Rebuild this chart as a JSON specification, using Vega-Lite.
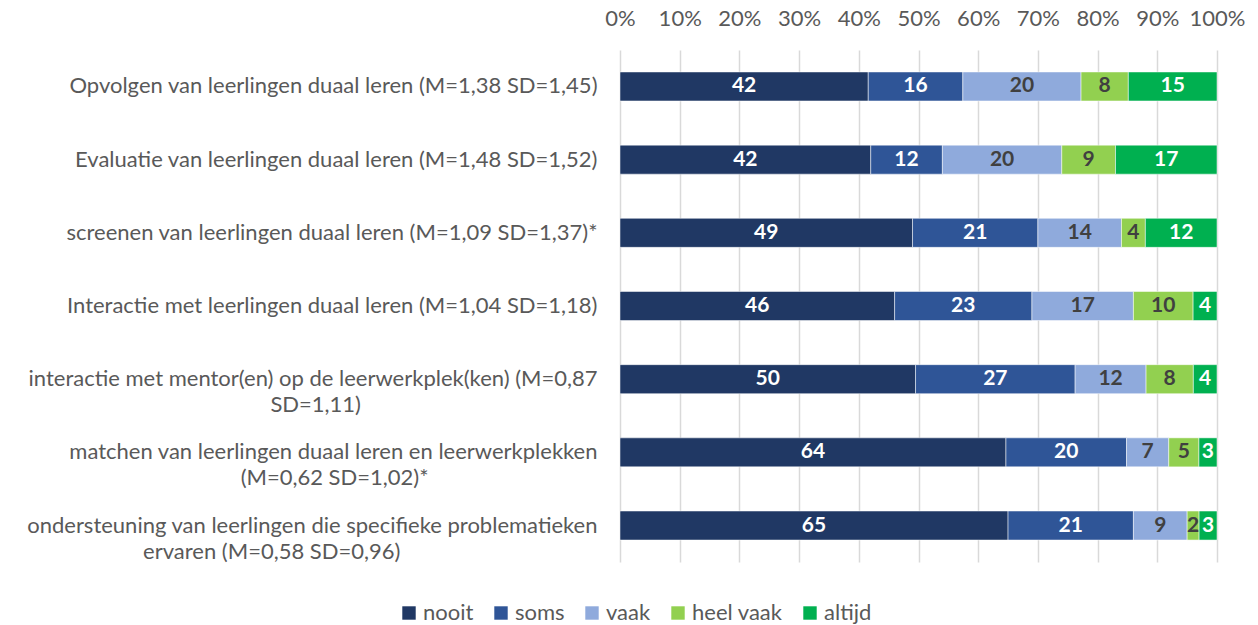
{
  "$schema": "https://vega.github.io/schema/vega-lite/v6.json",
  "width": 597,
  "height": 512,
  "autosize": {"type": "none"},
  "padding": {"left": 620, "top": 50, "right": 41, "bottom": 63},
  "background": "white",
  "config": {
    "font": "Lato",
    "view": {"stroke": null}
  },
  "data": {
    "values": [
      {"item": "Opvolgen van leerlingen duaal leren (M=1,38 SD=1,45)", "cat": "nooit", "k": 1, "v": 42},
      {"item": "Opvolgen van leerlingen duaal leren (M=1,38 SD=1,45)", "cat": "soms", "k": 2, "v": 16},
      {"item": "Opvolgen van leerlingen duaal leren (M=1,38 SD=1,45)", "cat": "vaak", "k": 3, "v": 20},
      {"item": "Opvolgen van leerlingen duaal leren (M=1,38 SD=1,45)", "cat": "heel vaak", "k": 4, "v": 8},
      {"item": "Opvolgen van leerlingen duaal leren (M=1,38 SD=1,45)", "cat": "altijd", "k": 5, "v": 15},
      {"item": "Evaluatie van leerlingen duaal leren (M=1,48 SD=1,52)", "cat": "nooit", "k": 1, "v": 42},
      {"item": "Evaluatie van leerlingen duaal leren (M=1,48 SD=1,52)", "cat": "soms", "k": 2, "v": 12},
      {"item": "Evaluatie van leerlingen duaal leren (M=1,48 SD=1,52)", "cat": "vaak", "k": 3, "v": 20},
      {"item": "Evaluatie van leerlingen duaal leren (M=1,48 SD=1,52)", "cat": "heel vaak", "k": 4, "v": 9},
      {"item": "Evaluatie van leerlingen duaal leren (M=1,48 SD=1,52)", "cat": "altijd", "k": 5, "v": 17},
      {"item": "screenen van leerlingen duaal leren (M=1,09 SD=1,37)*", "cat": "nooit", "k": 1, "v": 49},
      {"item": "screenen van leerlingen duaal leren (M=1,09 SD=1,37)*", "cat": "soms", "k": 2, "v": 21},
      {"item": "screenen van leerlingen duaal leren (M=1,09 SD=1,37)*", "cat": "vaak", "k": 3, "v": 14},
      {"item": "screenen van leerlingen duaal leren (M=1,09 SD=1,37)*", "cat": "heel vaak", "k": 4, "v": 4},
      {"item": "screenen van leerlingen duaal leren (M=1,09 SD=1,37)*", "cat": "altijd", "k": 5, "v": 12},
      {"item": "Interactie met leerlingen duaal leren (M=1,04 SD=1,18)", "cat": "nooit", "k": 1, "v": 46},
      {"item": "Interactie met leerlingen duaal leren (M=1,04 SD=1,18)", "cat": "soms", "k": 2, "v": 23},
      {"item": "Interactie met leerlingen duaal leren (M=1,04 SD=1,18)", "cat": "vaak", "k": 3, "v": 17},
      {"item": "Interactie met leerlingen duaal leren (M=1,04 SD=1,18)", "cat": "heel vaak", "k": 4, "v": 10},
      {"item": "Interactie met leerlingen duaal leren (M=1,04 SD=1,18)", "cat": "altijd", "k": 5, "v": 4},
      {"item": "interactie met mentor(en) op de leerwerkplek(ken) (M=0,87|SD=1,11)", "cat": "nooit", "k": 1, "v": 50},
      {"item": "interactie met mentor(en) op de leerwerkplek(ken) (M=0,87|SD=1,11)", "cat": "soms", "k": 2, "v": 27},
      {"item": "interactie met mentor(en) op de leerwerkplek(ken) (M=0,87|SD=1,11)", "cat": "vaak", "k": 3, "v": 12},
      {"item": "interactie met mentor(en) op de leerwerkplek(ken) (M=0,87|SD=1,11)", "cat": "heel vaak", "k": 4, "v": 8},
      {"item": "interactie met mentor(en) op de leerwerkplek(ken) (M=0,87|SD=1,11)", "cat": "altijd", "k": 5, "v": 4},
      {"item": "matchen van leerlingen duaal leren en leerwerkplekken|(M=0,62 SD=1,02)*", "cat": "nooit", "k": 1, "v": 64},
      {"item": "matchen van leerlingen duaal leren en leerwerkplekken|(M=0,62 SD=1,02)*", "cat": "soms", "k": 2, "v": 20},
      {"item": "matchen van leerlingen duaal leren en leerwerkplekken|(M=0,62 SD=1,02)*", "cat": "vaak", "k": 3, "v": 7},
      {"item": "matchen van leerlingen duaal leren en leerwerkplekken|(M=0,62 SD=1,02)*", "cat": "heel vaak", "k": 4, "v": 5},
      {"item": "matchen van leerlingen duaal leren en leerwerkplekken|(M=0,62 SD=1,02)*", "cat": "altijd", "k": 5, "v": 3},
      {"item": "ondersteuning van leerlingen die specifieke problematieken|ervaren (M=0,58 SD=0,96)", "cat": "nooit", "k": 1, "v": 65},
      {"item": "ondersteuning van leerlingen die specifieke problematieken|ervaren (M=0,58 SD=0,96)", "cat": "soms", "k": 2, "v": 21},
      {"item": "ondersteuning van leerlingen die specifieke problematieken|ervaren (M=0,58 SD=0,96)", "cat": "vaak", "k": 3, "v": 9},
      {"item": "ondersteuning van leerlingen die specifieke problematieken|ervaren (M=0,58 SD=0,96)", "cat": "heel vaak", "k": 4, "v": 2},
      {"item": "ondersteuning van leerlingen die specifieke problematieken|ervaren (M=0,58 SD=0,96)", "cat": "altijd", "k": 5, "v": 3}
    ]
  },
  "encoding": {
    "y": {
      "field": "item",
      "type": "nominal",
      "sort": null,
      "title": null,
      "scale": {"paddingInner": 0.6035, "paddingOuter": 0.3},
      "axis": {
        "domain": false,
        "ticks": false,
        "labelPadding": 23,
        "labelFontSize": 22,
        "labelColor": "#595959",
        "labelLimit": 0,
        "labelLineHeight": 26,
        "labelExpr": "indexof(datum.value, '|') < 0 ? datum.value : [split(datum.value, '|')[0], pad(split(datum.value, '|')[1], length(split(datum.value, '|')[1]) + (indexof(datum.value, 'SD=1,11') >= 0 ? 42 : indexof(datum.value, 'SD=1,02') >= 0 ? 30 : 35), '\u00a0') + '\u2060']"
      }
    },
    "x": {
      "field": "v",
      "type": "quantitative",
      "stack": "normalize",
      "title": null,
      "scale": {"domain": [0, 1], "nice": false},
      "axis": {
        "orient": "top",
        "format": ".0%",
        "values": [0, 0.1, 0.2, 0.3, 0.4, 0.5, 0.6, 0.7, 0.8, 0.9, 1],
        "domain": false,
        "ticks": false,
        "grid": true,
        "gridColor": "#d9d9d9",
        "gridWidth": 1.5,
        "labelPadding": 20,
        "labelFontSize": 22,
        "labelColor": "#595959",
        "labelFlush": false,
        "labelOverlap": false
      }
    },
    "order": {"field": "k", "type": "quantitative"},
    "color": {
      "field": "cat",
      "type": "nominal",
      "sort": ["nooit", "soms", "vaak", "heel vaak", "altijd"],
      "scale": {
        "domain": ["nooit", "soms", "vaak", "heel vaak", "altijd"],
        "range": ["#203864", "#2f5597", "#8faadc", "#92d050", "#00b050"]
      },
      "legend": {
        "title": null,
        "orient": "none",
        "direction": "horizontal",
        "legendX": -222,
        "legendY": 552,
        "symbolType": "square",
        "symbolSize": 180,
        "symbolStrokeWidth": 0,
        "symbolOpacity": 1,
        "labelFontSize": 22,
        "labelColor": "#595959",
        "labelOffset": 3,
        "columnPadding": 16
      }
    }
  },
  "layer": [
    {
      "mark": {"type": "bar", "stroke": "white", "strokeWidth": 0.5}
    },
    {
      "mark": {"type": "text", "fontWeight": "bold", "fontSize": 21, "baseline": "middle", "align": "center"},
      "encoding": {
        "x": {"field": "v", "type": "quantitative", "stack": "normalize", "bandPosition": 0.5},
        "text": {"field": "v", "type": "quantitative"},
        "fill": {
          "condition": {"test": "datum.cat === 'vaak' || datum.cat === 'heel vaak'", "value": "#404040"},
          "value": "#ffffff"
        }
      }
    }
  ]
}
